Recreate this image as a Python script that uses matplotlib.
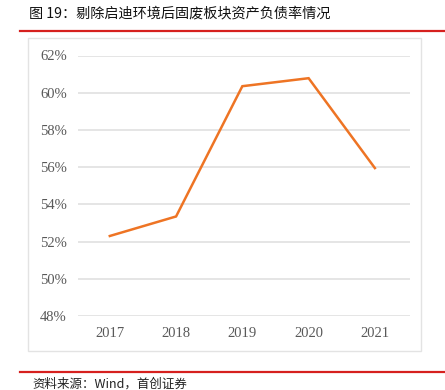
import matplotlib.pyplot as plt
from matplotlib.patches import Rectangle
from matplotlib.lines import Line2D

# данные
years = ['2017', '2018', '2019', '2020', '2021']
debt_ratio = [52.3, 53.35, 60.35, 60.78, 55.95]
y_ticks = [48, 50, 52, 54, 56, 58, 60, 62]

plt.rcParams['font.family'] = ['Noto Sans CJK SC', 'DejaVu Sans']

fig = plt.figure(figsize=(4.45, 3.9), dpi=100)

# заголовок и красные линии
fig.text(29 / 445, 1 - 13 / 390, '图 19：剔除启迪环境后固废板块资产负债率情况',
         fontsize=10.2, va='center', ha='left', color='#111111')
fig.add_artist(Line2D([20 / 445, 1], [1 - 31 / 390] * 2, color='#D6201E', lw=1.6))
fig.add_artist(Line2D([20 / 445, 1], [1 - 372 / 390] * 2, color='#D6201E', lw=1.6))
fig.text(32 / 445, 1 - 384 / 390, '资料来源：Wind，首创证券', fontsize=9,
         va='center', ha='left', style='italic', color='#222222')

# рамка графика
fig.add_artist(Rectangle((28 / 445, 1 - 351 / 390), (421 - 28) / 445, (351 - 38) / 390,
                         fill=False, edgecolor='#E3E3E3', lw=1.0))

ax = fig.add_axes([78 / 445, 1 - 316 / 390, (410 - 78) / 445, (316 - 55.5) / 390])
x = list(range(len(years)))
ax.plot(x, debt_ratio, color='#EE7424', lw=1.8, solid_joinstyle='miter', zorder=3)

ax.set_xlim(-0.48, 4.53)
ax.set_ylim(48, 62)
ax.set_yticks(y_ticks)
ax.set_yticklabels([f'{v}%' for v in y_ticks], family='Liberation Serif',
                   fontsize=10.5, color='#595959')
ax.set_xticks(x)
ax.set_xticklabels(years, family='Liberation Serif', fontsize=10.5, color='#595959')
ax.grid(axis='y', color='#E0E0E0', lw=1.2)
ax.set_axisbelow(True)
ax.tick_params(length=0, pad=8)
for s in ax.spines.values():
    s.set_visible(False)

fig.savefig('out.png', dpi=100)
